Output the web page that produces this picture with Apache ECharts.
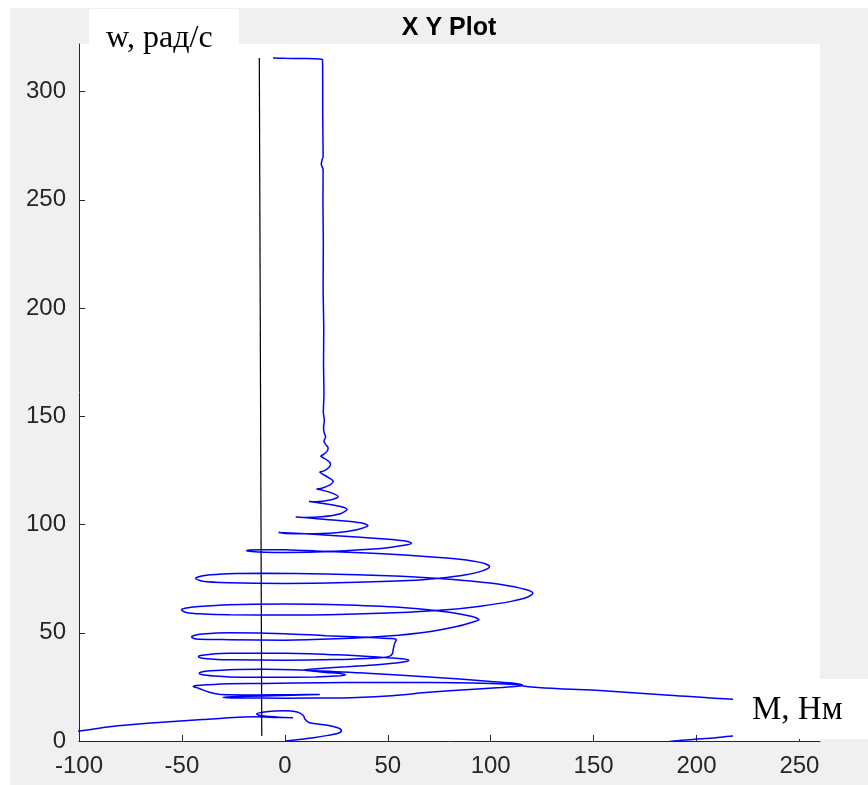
<!DOCTYPE html>
<html>
<head>
<meta charset="utf-8">
<script src="https://cdn.jsdelivr.net/npm/echarts@6/dist/echarts.min.js"></script>
<style>html,body{margin:0;padding:0;background:#fff;}#c{width:868px;height:785px;}</style>
</head>
<body>
<div id="c"></div>
<script>
// ---- data (M, Нм ; w, рад/с) ----
const xTicks = [-100, -50, 0, 50, 100, 150, 200, 250];
const yTicks = [0, 50, 100, 150, 200, 250, 300];
const titleText = 'X Y Plot';
const yName = 'w, рад/с';
const xName = 'M, Нм';

// start of run (w from 0), first swings, leaves chart on the left
const startSeg = [[0.5,0],[6,0.6],[14,1.5],[21,2.6],[26,3.6],[27.5,4.7],[26,6],[20,7.4],[12,8.4],[9.8,10],[9,11.8],[6,13.4],[0,14],[-5,13.9],[-10,13.4],[-13.7,12.5],[-12,11.8],[-4,11.1],[4,10.7],[-4,10.9],[-15,11.2],[-40,9.9],[-65,8.3],[-85,6.6],[-100,4.6],[-125,2.2],[-160,-1.5],[-220,-8]];
// swing below zero / off to the right and back
const offSeg = [[-300,-14],[-100,-16],[60,-12],[150,-5],[175,-2],[189,0],[204,1.1],[217.5,2.3],[245,4.3],[275,8],[295,13],[285,17],[255,18.4],[217.5,19.3],[185,21.3],[153,23.3],[133.5,24.1],[120,24.9],[116,25.4]];
// lower part of the spiral (w 25..56)
const lowSpiral = [[112,26.1],[100,26.6],[70,27],[40,27],[19,26.9],[-10,26.6],[-27,26.5],[-38,26],[-43,25.6],[-44.5,25.2],[-42,24.4],[-37,22.6],[-31,21.5],[-15,21.3],[5,21.4],[17,21.5],[8,21.2],[-10,20.8],[-26,20.4],[-30,20.1],[-26,19.9],[0,19.8],[27,19.9],[50,20.8],[70,22.5],[90,23.8],[105,24.7],[113,25.3],[115.5,25.8],[112,26.6],[100,27.5],[85,28.6],[70,29.6],[40,31.3],[15,32.5],[-10,33.1],[-27,32.9],[-36,32.4],[-40.5,31.9],[-41.6,31.3],[-40,30.6],[-34,30],[-27,29.6],[-5,29.4],[15,29.6],[25,30],[29.5,30.5],[28,31],[20,31.7],[12,32.4],[9,32.8],[14,33.3],[30,34.3],[45,35.2],[55,36.1],[59.5,36.8],[60.2,37.3],[57,38],[45,38.8],[25,39.8],[0,40.5],[-27,40.5],[-37,40],[-41,39.5],[-42,39],[-40,38.2],[-33,37.7],[-27,37.5],[0,37.3],[25,37.6],[40,38.1],[48,38.6],[51,39.2],[52.3,40.5],[52.8,43],[53.5,45.5],[54.2,46.8],[52,47.3],[40,47.9],[20,48.6],[0,49.6],[-27,50],[-40,49.4],[-44.5,48.6],[-45.3,48],[-43,47.1],[-35,46.9],[-27,46.8],[0,46.6],[25,47.2],[50,48.5],[70,50.5],[84,53],[91.5,55],[94.3,56]];
// middle part of the spiral (w 56..100)
const midSpiral = [[91,57.5],[80,59.5],[60,61.5],[30,62.8],[0,63.3],[-27,63],[-42,62.1],[-48.5,61.3],[-50.2,60.6],[-48,59.4],[-40,58.7],[-27,58.3],[0,58.2],[30,58.6],[60,59.5],[78.5,60.6],[95,62.3],[110,64.5],[118,66.5],[120.5,68.3],[117,70],[105,72.3],[90,73.9],[75,75.1],[50,76.3],[20,77.2],[-10,77.5],[-27,77.3],[-38,76.6],[-43.4,75.2],[-40,73.8],[-27,73.1],[0,72.8],[30,73.2],[60,74.1],[75,75.2],[88,76.8],[96,78.6],[99.5,80.6],[96,82.3],[85,84],[65,85.5],[40,86.8],[15,87.8],[0,88.3],[-12,88.4],[-17,88.2],[-18.6,87.9],[-16,87.5],[-5,87.1],[15,87.3],[35,88.2],[50,89.3],[58,90.4],[61.5,91.4],[58,92.5],[45,93.6],[25,94.8],[10,95.7],[0,96.2],[-3,96.3],[0,95.9],[10,95.7],[25,96.2],[35,97.6],[40.4,99.5]];
// upper damped part and steady run up to w = 315
const topSpiral = [[37,100.8],[25,102],[12,103],[5.3,103.5],[9,103.3],[18,103.6],[27,105],[30.2,107],[27,108.3],[18,109.8],[11.7,110.6],[15,110.5],[22,111.3],[25.9,113],[23,114.5],[18,115.9],[15.4,116.4],[18,116.8],[22,118.3],[23.5,120],[21,121.8],[18,123.5],[17,124.2],[19,124.8],[21.5,126.5],[22.2,128],[20.5,129.8],[18,131.2],[17.5,131.6],[19,132.5],[20.8,134.3],[21,135.5],[19.8,137],[19,138.5],[19.8,140.5],[19.1,142.5],[18.8,145],[19.2,148],[18.7,152],[19,160],[18.8,175],[18.9,190],[18.6,210],[18.7,230],[18.5,250],[18.6,264],[17.7,266.5],[18.1,268.5],[18.6,270],[18.4,290],[18.4,305],[18.3,314.6],[17,315.1],[8,315.3],[0,315.4],[-5.7,315.5]];
// hand-drawn vertical marker line
const markerLine = [[-12.4,315.5],[-11.2,2.3]];

const curve = [].concat(startSeg, offSeg, lowSpiral, midSpiral, topSpiral);

const chart = echarts.init(document.getElementById('c'), null, {renderer:'canvas', width:868, height:785});
const axisColor = '#262626';
chart.setOption({
  animation: false,
  backgroundColor: '#f0f0f0',
  grid: {left:79, right:48, top:44, bottom:44, show:true, backgroundColor:'#ffffff', borderWidth:0},
  xAxis: {
    type:'value', min:-100, max:260,
    axisLine:{show:true, onZero:false, lineStyle:{color:axisColor, width:1}},
    axisTick:{show:true, inside:true, length:6, customValues:xTicks, lineStyle:{color:axisColor}},
    axisLabel:{customValues:xTicks, color:axisColor, fontSize:24, fontFamily:'Liberation Sans, Arial, sans-serif', margin:13},
    splitLine:{show:false}
  },
  yAxis: {
    type:'value', min:0, max:322,
    axisLine:{show:true, onZero:false, lineStyle:{color:axisColor, width:1}},
    axisTick:{show:true, inside:true, length:6, customValues:yTicks, lineStyle:{color:axisColor}},
    axisLabel:{customValues:yTicks, color:axisColor, fontSize:24, fontFamily:'Liberation Sans, Arial, sans-serif', margin:13},
    splitLine:{show:false}
  },
  series: [
    {type:'line', data:curve, showSymbol:false, smooth:0.3, clip:true,
     lineStyle:{color:'#0000ff', width:1.5}, z:3},
    {type:'line', data:markerLine, showSymbol:false, clip:true,
     lineStyle:{color:'#000000', width:1.2}, z:4}
  ],
  graphic: [
    {type:'rect', shape:{x:0, y:0, width:868, height:8}, style:{fill:'#ffffff'}, z:100},
    {type:'rect', shape:{x:0, y:0, width:10, height:785}, style:{fill:'#ffffff'}, z:100},
    {type:'text', x:449, y:28, z:100, style:{text:titleText, font:'bold 25px "Liberation Sans", Arial, sans-serif', fill:'#000', align:'center', verticalAlign:'middle'}},
    {type:'rect', shape:{x:89, y:9, width:150, height:50}, style:{fill:'#ffffff'}, z:100},
    {type:'text', x:106, y:39, z:101, style:{text:yName, font:'32px "Liberation Serif", "Times New Roman", serif', fill:'#000', align:'left', verticalAlign:'middle'}},
    {type:'rect', shape:{x:733, y:679, width:135, height:60}, style:{fill:'#ffffff'}, z:100},
    {type:'text', x:752, y:710, z:101, style:{text:xName, font:'33px "Liberation Serif", "Times New Roman", serif', fill:'#000', align:'left', verticalAlign:'middle'}}
  ]
});
</script>
</body>
</html>
